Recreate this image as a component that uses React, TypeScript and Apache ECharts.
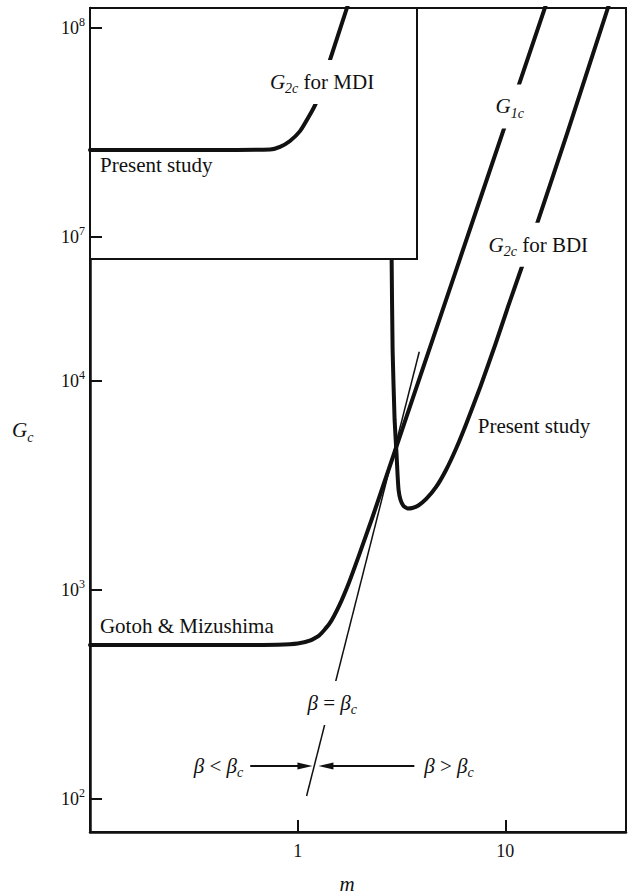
import React, { useEffect, useRef } from "react";
import * as echarts from "echarts";

// ---------- axis ticks ----------
const xTickValues = [1, 10];
const yTickExponentsMain = [2, 3, 4];
const yTickExponentsInset = [7, 8];

// ---------- axis ranges ----------
const xRangeMain = [0.1, 38.1];
const yRangeMain = [69.5, 6.09e5];
const xRangeInset = [0.1, 3.607];
const yRangeInset = [7.846e6, 1.2465e8];

// ---------- G1c (Gotoh & Mizushima / present study) ----------
const g1cM = [0.1, 0.578, 0.803, 1.0, 1.153, 1.273, 1.42, 1.585, 1.769, 1.973, 2.276, 2.896, 4, 6, 10, 15.5, 20];
const g1cG = [545.6, 545.6, 546.9, 554.1, 574, 607.7, 687.6, 842.1, 1090, 1464, 2186, 4424, 11430, 37600, 168300, 610000, 1290000];

// ---------- G2c for BDI (present study) ----------
const bdiM = [2.803, 2.834, 2.865, 2.929, 2.994, 3.027, 3.061, 3.128, 3.233, 3.378, 3.567, 3.811, 4.159, 4.642, 5.18, 5.78, 6.449, 7.603, 8.964, 10.33, 12.05, 14.36, 19.95, 30.94, 36.07];
const bdiG = [130200, 38340, 14070, 6509, 4424, 3550, 3009, 2696, 2522, 2455, 2468, 2537, 2726, 3111, 3752, 4727, 6160, 9465, 15030, 22850, 35500, 58300, 155400, 595700, 946500];

// ---------- G2c for MDI (inset, present study) ----------
const mdiM = [0.1, 0.5, 0.72, 0.803, 0.896, 1.0, 1.092, 1.192, 1.36, 1.674, 1.828];
const mdiG = [2.61e7, 2.61e7, 2.62e7, 2.7e7, 2.88e7, 3.21e7, 3.71e7, 4.38e7, 6.58e7, 1.25e8, 1.62e8];

// ---------- tangent line beta = beta_c ----------
const tangentM = [1.104, 3.85];
const tangentG = [103.3, 13800];

// ---------- arrows ----------
const arrowFromM = [0.591, 3.646];
const arrowToM = [1.178, 1.259];
const arrowG = [144, 144];

// ---------- annotations ----------
const annotations = [
  { axes: "inset", m: 0.1116, g: 2.21e7, text: "{t|Present study}", align: "left", gap: false },
  { axes: "inset", m: 0.696, g: 5.52e7, text: "{i|G}{sub|2c}{t| for MDI}", align: "left", gap: true },
  { axes: "main", m: 8.68, g: 2.06e5, text: "{i|G}{sub|1c}", align: "left", gap: true },
  { axes: "main", m: 8.03, g: 4.48e4, text: "{i|G}{sub|2c}{t| for BDI}", align: "left", gap: true },
  { axes: "main", m: 7.36, g: 6120, text: "{t|Present study}", align: "left", gap: false },
  { axes: "main", m: 0.1116, g: 673, text: "{t|Gotoh & Mizushima}", align: "left", gap: false },
  { axes: "main", m: 1.468, g: 288, text: "{i|β}{t| = }{i|β}{sub|c}", align: "center", gap: true },
  { axes: "main", m: 0.547, g: 144, text: "{i|β}{t| < }{i|β}{sub|c}", align: "right", gap: false },
  { axes: "main", m: 4.07, g: 144, text: "{i|β}{t| > }{i|β}{sub|c}", align: "left", gap: false },
];

const FONT = "'Liberation Serif', 'Times New Roman', serif";
const INK = "#111";

const zip = (a: number[], b: number[]) => a.map((v, i) => [v, b[i]]);

const richGraphic = {
  t: { fontFamily: FONT, fontSize: 21, lineHeight: 28, fill: INK },
  i: { fontFamily: FONT, fontSize: 21, lineHeight: 28, fontStyle: "italic", fill: INK },
  sub: { fontFamily: FONT, fontSize: 14, lineHeight: 16, fontStyle: "italic", verticalAlign: "bottom", fill: INK },
};

const tickRich = {
  b: { fontFamily: FONT, fontSize: 18, lineHeight: 24, color: INK },
  s: { fontFamily: FONT, fontSize: 12, lineHeight: 12, verticalAlign: "top", color: INK },
};

const expLabel = (allowed: number[]) => (v: number) => {
  const e = Math.log10(v);
  const r = Math.round(e);
  if (Math.abs(e - r) > 1e-6 || !allowed.includes(r)) return "";
  return `{b|10}{s|${r}}`;
};

const xLabel = (v: number) => {
  const hit = xTickValues.find((t) => Math.abs(Math.log10(t) - Math.log10(v)) < 1e-6);
  return hit !== undefined ? `{b|${hit}}` : "";
};

export default function App() {
  const ref = useRef<HTMLDivElement>(null);

  useEffect(() => {
    const el = ref.current;
    if (!el) return;
    const chart = echarts.init(el, undefined, { renderer: "svg" });

    const axisLine = { show: true, onZero: false, lineStyle: { color: INK, width: 2.5 } };
    const axisTick = { show: true, inside: true, length: 12, lineStyle: { color: INK, width: 2 } };

    const option: any = {
      animation: false,
      backgroundColor: "#fff",
      grid: [
        { left: 90, top: 8, width: 542, height: 824, show: true, borderColor: INK, borderWidth: 2, backgroundColor: "transparent" },
        { left: 90, top: 8, width: 327, height: 251, show: true, borderColor: INK, borderWidth: 2, backgroundColor: "#fff", z: 10 },
      ],
      xAxis: [
        {
          type: "log", gridIndex: 0, logBase: 10, min: xRangeMain[0], max: xRangeMain[1],
          axisLine, axisTick, splitLine: { show: false }, minorTick: { show: false },
          axisLabel: { formatter: xLabel, margin: 7, rich: tickRich },
        },
        {
          type: "log", gridIndex: 1, logBase: 10, min: xRangeInset[0], max: xRangeInset[1], show: false,
          splitLine: { show: false },
        },
      ],
      yAxis: [
        {
          type: "log", gridIndex: 0, logBase: 10, min: yRangeMain[0], max: yRangeMain[1],
          axisLine, axisTick, splitLine: { show: false }, minorTick: { show: false },
          axisLabel: { formatter: expLabel(yTickExponentsMain), margin: 5, rich: tickRich },
        },
        {
          type: "log", gridIndex: 1, logBase: 10, min: yRangeInset[0], max: yRangeInset[1], z: 20,
          axisLine: { show: false }, axisTick, splitLine: { show: false }, minorTick: { show: false },
          axisLabel: { formatter: expLabel(yTickExponentsInset), margin: 5, rich: tickRich },
        },
      ],
      series: [
        {
          name: "G1c", type: "line", xAxisIndex: 0, yAxisIndex: 0, data: zip(g1cM, g1cG),
          showSymbol: false, smooth: 0.15, z: 2,
          lineStyle: { color: INK, width: 4, join: "round", cap: "round" },
        },
        {
          name: "G2c BDI", type: "line", xAxisIndex: 0, yAxisIndex: 0, data: zip(bdiM, bdiG),
          showSymbol: false, smooth: 0.15, z: 2,
          lineStyle: { color: INK, width: 4, join: "round", cap: "round" },
        },
        {
          name: "tangent", type: "line", xAxisIndex: 0, yAxisIndex: 0, data: zip(tangentM, tangentG),
          showSymbol: false, z: 3, lineStyle: { color: INK, width: 1.5 },
        },
        {
          name: "arrows", type: "custom", xAxisIndex: 0, yAxisIndex: 0, z: 3, clip: false,
          data: arrowFromM.map((m, i) => [m, arrowG[i], arrowToM[i], arrowG[i]]),
          encode: { x: [0, 2], y: [1, 3] },
          renderItem: (_p: any, api: any) => {
            const p0 = api.coord([api.value(0), api.value(1)]);
            const p1 = api.coord([api.value(2), api.value(3)]);
            const dx = p1[0] - p0[0];
            const dy = p1[1] - p0[1];
            const len = Math.hypot(dx, dy) || 1;
            const ux = dx / len;
            const uy = dy / len;
            const hl = 15;
            const hw = 3.5;
            const bx = p1[0] - ux * hl;
            const by = p1[1] - uy * hl;
            return {
              type: "group",
              children: [
                { type: "line", shape: { x1: p0[0], y1: p0[1], x2: bx + ux * 2, y2: by + uy * 2 }, style: { stroke: INK, lineWidth: 2 } },
                {
                  type: "polygon",
                  shape: { points: [[p1[0], p1[1]], [bx - uy * hw, by + ux * hw], [bx + uy * hw, by - ux * hw]] },
                  style: { fill: INK },
                },
              ],
            };
          },
        },
        {
          name: "G2c MDI", type: "line", xAxisIndex: 1, yAxisIndex: 1, data: zip(mdiM, mdiG),
          showSymbol: false, smooth: 0.25, z: 20,
          lineStyle: { color: INK, width: 4, join: "round", cap: "round" },
        },
      ],
    };

    chart.setOption(option);

    const graphics: any[] = annotations.map((a) => {
      const finder = a.axes === "inset" ? { xAxisIndex: 1, yAxisIndex: 1 } : { xAxisIndex: 0, yAxisIndex: 0 };
      const p = chart.convertToPixel(finder as any, [a.m, a.g]) as number[];
      return {
        type: "text",
        x: p[0],
        y: p[1],
        z: 30,
        style: {
          text: a.text,
          rich: richGraphic,
          align: a.align,
          verticalAlign: "middle",
          backgroundColor: a.gap ? "#fff" : "transparent",
          padding: a.gap ? [8, 3] : 0,
        },
      };
    });

    graphics.push({
      type: "text", x: 12, y: 430, z: 30,
      style: { text: "{i|G}{sub|c}", rich: richGraphic, align: "left", verticalAlign: "middle" },
    });
    graphics.push({
      type: "text", x: 347, y: 884, z: 30,
      style: { text: "{i|m}", rich: richGraphic, align: "center", verticalAlign: "middle" },
    });

    chart.setOption({ graphic: graphics });

    return () => chart.dispose();
  }, []);

  return (
    <div
      ref={ref}
      style={{ position: "fixed", left: 0, top: 0, width: 629, height: 896, background: "#fff" }}
    />
  );
}
